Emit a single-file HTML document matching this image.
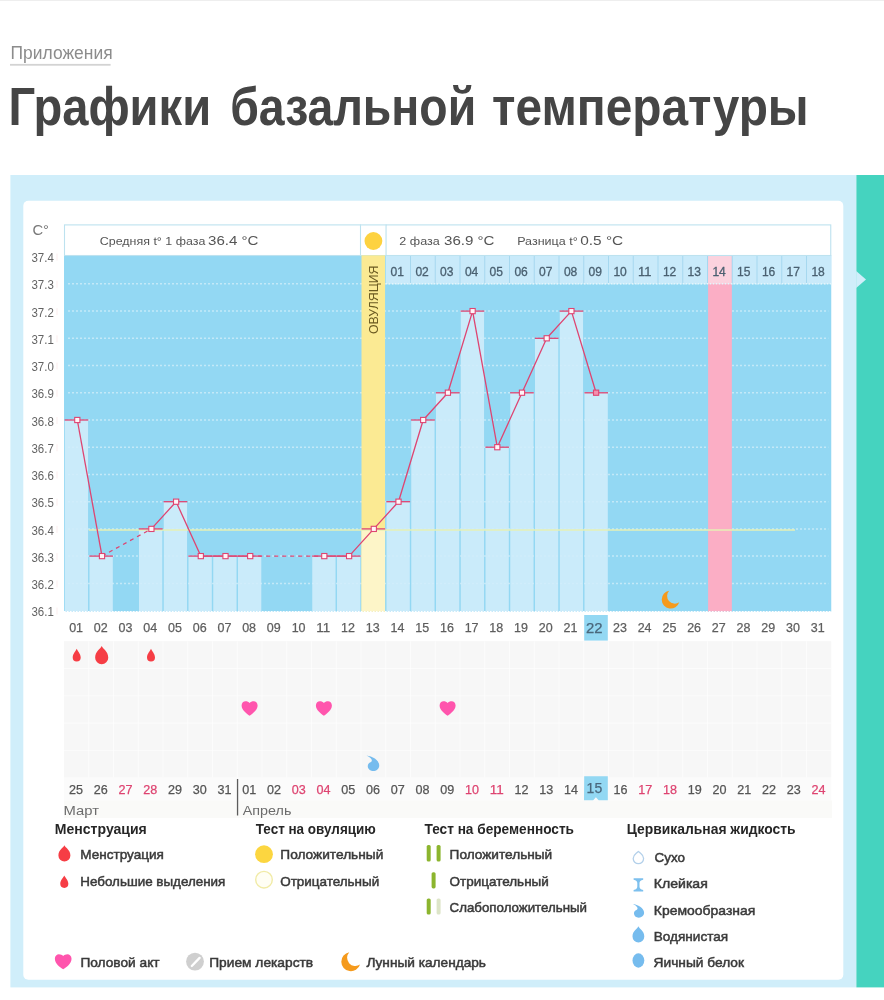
<!DOCTYPE html>
<html lang="ru"><head><meta charset="utf-8"><title>Графики базальной температуры</title>
<style>
html,body{margin:0;padding:0;background:#ffffff;}
body{width:884px;height:1000px;overflow:hidden;font-family:"Liberation Sans",sans-serif;}
svg{display:block;}
svg text{font-family:"Liberation Sans",sans-serif;}
</style></head><body>
<svg width="884" height="1000" viewBox="0 0 884 1000">
<defs><filter id="soft" filterUnits="userSpaceOnUse" x="-20" y="-20" width="924" height="1040"><feGaussianBlur stdDeviation="0.6"/></filter></defs>
<g filter="url(#soft)">
<rect x="-20" y="-20" width="924" height="1040" fill="#ffffff"/>
<rect x="0" y="0" width="884" height="1" fill="#eeeeee"/>
<text x="10.6" y="58.7" font-size="17.5" fill="#8c8c8c" font-weight="400" text-anchor="start" textLength="102.0" lengthAdjust="spacingAndGlyphs">Приложения</text>
<rect x="10" y="63.9" width="100.6" height="1.8" fill="#d3d3d3"/>
<text x="8.5" y="125.4" font-size="53" fill="#444444" font-weight="700" text-anchor="start" textLength="202.6" lengthAdjust="spacingAndGlyphs">Графики</text>
<text x="230.2" y="125.4" font-size="53" fill="#444444" font-weight="700" text-anchor="start" textLength="246.0" lengthAdjust="spacingAndGlyphs">базальной</text>
<text x="492.0" y="125.4" font-size="53" fill="#444444" font-weight="700" text-anchor="start" textLength="316.7" lengthAdjust="spacingAndGlyphs">температуры</text>
<rect x="10.4" y="175" width="846.1" height="812.4" fill="#d0eefa"/>
<rect x="856.4" y="175" width="47.6" height="812.4" fill="#45d3bf"/>
<path d="M856.2 271 L866 279.5 L856.2 288 Z" fill="#d0eefa"/>
<rect x="23.3" y="200.8" width="820" height="779" rx="5" fill="#ffffff"/>
<rect x="64.0" y="255.3" width="767.25" height="356.3" fill="#93d8f3"/>
<line x1="68.0" y1="283.8" x2="828.25" y2="283.8" stroke="#ffffff" stroke-opacity="0.45" stroke-width="1.5" stroke-dasharray="2 2"/>
<line x1="68.0" y1="311.1" x2="828.25" y2="311.1" stroke="#ffffff" stroke-opacity="0.45" stroke-width="1.5" stroke-dasharray="2 2"/>
<line x1="68.0" y1="338.3" x2="828.25" y2="338.3" stroke="#ffffff" stroke-opacity="0.45" stroke-width="1.5" stroke-dasharray="2 2"/>
<line x1="68.0" y1="365.5" x2="828.25" y2="365.5" stroke="#ffffff" stroke-opacity="0.45" stroke-width="1.5" stroke-dasharray="2 2"/>
<line x1="68.0" y1="392.8" x2="828.25" y2="392.8" stroke="#ffffff" stroke-opacity="0.45" stroke-width="1.5" stroke-dasharray="2 2"/>
<line x1="68.0" y1="420.0" x2="828.25" y2="420.0" stroke="#ffffff" stroke-opacity="0.45" stroke-width="1.5" stroke-dasharray="2 2"/>
<line x1="68.0" y1="447.2" x2="828.25" y2="447.2" stroke="#ffffff" stroke-opacity="0.45" stroke-width="1.5" stroke-dasharray="2 2"/>
<line x1="68.0" y1="474.4" x2="828.25" y2="474.4" stroke="#ffffff" stroke-opacity="0.45" stroke-width="1.5" stroke-dasharray="2 2"/>
<line x1="68.0" y1="501.7" x2="828.25" y2="501.7" stroke="#ffffff" stroke-opacity="0.45" stroke-width="1.5" stroke-dasharray="2 2"/>
<line x1="68.0" y1="528.9" x2="828.25" y2="528.9" stroke="#ffffff" stroke-opacity="0.45" stroke-width="1.5" stroke-dasharray="2 2"/>
<line x1="68.0" y1="556.1" x2="828.25" y2="556.1" stroke="#ffffff" stroke-opacity="0.45" stroke-width="1.5" stroke-dasharray="2 2"/>
<line x1="68.0" y1="583.4" x2="828.25" y2="583.4" stroke="#ffffff" stroke-opacity="0.45" stroke-width="1.5" stroke-dasharray="2 2"/>
<rect x="385.75" y="255.3" width="445.5" height="28.5" fill="#c9eafa"/>
<rect x="64.75" y="420.0" width="23.30" height="191.6" fill="#d2edfb" fill-opacity="0.88"/>
<rect x="89.50" y="556.1" width="23.30" height="55.5" fill="#d2edfb" fill-opacity="0.88"/>
<rect x="139.00" y="528.9" width="23.30" height="82.7" fill="#d2edfb" fill-opacity="0.88"/>
<rect x="163.75" y="501.7" width="23.30" height="109.9" fill="#d2edfb" fill-opacity="0.88"/>
<rect x="188.50" y="556.1" width="23.30" height="55.5" fill="#d2edfb" fill-opacity="0.88"/>
<rect x="213.25" y="556.1" width="23.30" height="55.5" fill="#d2edfb" fill-opacity="0.88"/>
<rect x="238.00" y="556.1" width="23.30" height="55.5" fill="#d2edfb" fill-opacity="0.88"/>
<rect x="312.25" y="556.1" width="23.30" height="55.5" fill="#d2edfb" fill-opacity="0.88"/>
<rect x="337.00" y="556.1" width="23.30" height="55.5" fill="#d2edfb" fill-opacity="0.88"/>
<rect x="386.50" y="501.7" width="23.30" height="109.9" fill="#d2edfb" fill-opacity="0.88"/>
<rect x="411.25" y="420.0" width="23.30" height="191.6" fill="#d2edfb" fill-opacity="0.88"/>
<rect x="436.00" y="392.8" width="23.30" height="218.9" fill="#d2edfb" fill-opacity="0.88"/>
<rect x="460.75" y="311.1" width="23.30" height="300.5" fill="#d2edfb" fill-opacity="0.88"/>
<rect x="485.50" y="447.2" width="23.30" height="164.4" fill="#d2edfb" fill-opacity="0.88"/>
<rect x="510.25" y="392.8" width="23.30" height="218.9" fill="#d2edfb" fill-opacity="0.88"/>
<rect x="535.00" y="338.3" width="23.30" height="273.3" fill="#d2edfb" fill-opacity="0.88"/>
<rect x="559.75" y="311.1" width="23.30" height="300.5" fill="#d2edfb" fill-opacity="0.88"/>
<rect x="584.50" y="392.8" width="23.30" height="218.9" fill="#d2edfb" fill-opacity="0.88"/>
<rect x="361.50" y="255.3" width="23.55" height="356.3" fill="#fbea93"/>
<rect x="361.50" y="528.9" width="23.55" height="82.7" fill="#fdf5c8"/>
<rect x="708.10" y="255.3" width="23.75" height="356.3" fill="#fbaec5"/>
<rect x="708.10" y="255.3" width="23.75" height="28.5" fill="#fbd2de"/>
<rect x="410.00" y="255.3" width="1" height="28.5" fill="#a6d8ef"/>
<rect x="434.75" y="255.3" width="1" height="28.5" fill="#a6d8ef"/>
<rect x="459.50" y="255.3" width="1" height="28.5" fill="#a6d8ef"/>
<rect x="484.25" y="255.3" width="1" height="28.5" fill="#a6d8ef"/>
<rect x="509.00" y="255.3" width="1" height="28.5" fill="#a6d8ef"/>
<rect x="533.75" y="255.3" width="1" height="28.5" fill="#a6d8ef"/>
<rect x="558.50" y="255.3" width="1" height="28.5" fill="#a6d8ef"/>
<rect x="583.25" y="255.3" width="1" height="28.5" fill="#a6d8ef"/>
<rect x="608.00" y="255.3" width="1" height="28.5" fill="#a6d8ef"/>
<rect x="632.75" y="255.3" width="1" height="28.5" fill="#a6d8ef"/>
<rect x="657.50" y="255.3" width="1" height="28.5" fill="#a6d8ef"/>
<rect x="682.25" y="255.3" width="1" height="28.5" fill="#a6d8ef"/>
<rect x="707.00" y="255.3" width="1" height="28.5" fill="#a6d8ef"/>
<rect x="731.75" y="255.3" width="1" height="28.5" fill="#a6d8ef"/>
<rect x="756.50" y="255.3" width="1" height="28.5" fill="#a6d8ef"/>
<rect x="781.25" y="255.3" width="1" height="28.5" fill="#a6d8ef"/>
<rect x="806.00" y="255.3" width="1" height="28.5" fill="#a6d8ef"/>
<line x1="385.75" y1="283.8" x2="831.25" y2="283.8" stroke="#e4f5fc" stroke-width="1.6" stroke-dasharray="1.5 1.5"/>
<text x="397.3" y="276.0" font-size="12.5" fill="#4a6070" font-weight="400" text-anchor="middle" textLength="13.4" lengthAdjust="spacingAndGlyphs" stroke="#4a6070" stroke-width="0.3">01</text>
<text x="422.1" y="276.0" font-size="12.5" fill="#4a6070" font-weight="400" text-anchor="middle" textLength="13.4" lengthAdjust="spacingAndGlyphs" stroke="#4a6070" stroke-width="0.3">02</text>
<text x="446.8" y="276.0" font-size="12.5" fill="#4a6070" font-weight="400" text-anchor="middle" textLength="13.4" lengthAdjust="spacingAndGlyphs" stroke="#4a6070" stroke-width="0.3">03</text>
<text x="471.6" y="276.0" font-size="12.5" fill="#4a6070" font-weight="400" text-anchor="middle" textLength="13.4" lengthAdjust="spacingAndGlyphs" stroke="#4a6070" stroke-width="0.3">04</text>
<text x="496.3" y="276.0" font-size="12.5" fill="#4a6070" font-weight="400" text-anchor="middle" textLength="13.4" lengthAdjust="spacingAndGlyphs" stroke="#4a6070" stroke-width="0.3">05</text>
<text x="521.1" y="276.0" font-size="12.5" fill="#4a6070" font-weight="400" text-anchor="middle" textLength="13.4" lengthAdjust="spacingAndGlyphs" stroke="#4a6070" stroke-width="0.3">06</text>
<text x="545.8" y="276.0" font-size="12.5" fill="#4a6070" font-weight="400" text-anchor="middle" textLength="13.4" lengthAdjust="spacingAndGlyphs" stroke="#4a6070" stroke-width="0.3">07</text>
<text x="570.6" y="276.0" font-size="12.5" fill="#4a6070" font-weight="400" text-anchor="middle" textLength="13.4" lengthAdjust="spacingAndGlyphs" stroke="#4a6070" stroke-width="0.3">08</text>
<text x="595.3" y="276.0" font-size="12.5" fill="#4a6070" font-weight="400" text-anchor="middle" textLength="13.4" lengthAdjust="spacingAndGlyphs" stroke="#4a6070" stroke-width="0.3">09</text>
<text x="620.1" y="276.0" font-size="12.5" fill="#4a6070" font-weight="400" text-anchor="middle" textLength="13.4" lengthAdjust="spacingAndGlyphs" stroke="#4a6070" stroke-width="0.3">10</text>
<text x="644.8" y="276.0" font-size="12.5" fill="#4a6070" font-weight="400" text-anchor="middle" textLength="13.4" lengthAdjust="spacingAndGlyphs" stroke="#4a6070" stroke-width="0.3">11</text>
<text x="669.6" y="276.0" font-size="12.5" fill="#4a6070" font-weight="400" text-anchor="middle" textLength="13.4" lengthAdjust="spacingAndGlyphs" stroke="#4a6070" stroke-width="0.3">12</text>
<text x="694.3" y="276.0" font-size="12.5" fill="#4a6070" font-weight="400" text-anchor="middle" textLength="13.4" lengthAdjust="spacingAndGlyphs" stroke="#4a6070" stroke-width="0.3">13</text>
<text x="719.1" y="276.0" font-size="12.5" fill="#4a6070" font-weight="400" text-anchor="middle" textLength="13.4" lengthAdjust="spacingAndGlyphs" stroke="#4a6070" stroke-width="0.3">14</text>
<text x="743.8" y="276.0" font-size="12.5" fill="#4a6070" font-weight="400" text-anchor="middle" textLength="13.4" lengthAdjust="spacingAndGlyphs" stroke="#4a6070" stroke-width="0.3">15</text>
<text x="768.6" y="276.0" font-size="12.5" fill="#4a6070" font-weight="400" text-anchor="middle" textLength="13.4" lengthAdjust="spacingAndGlyphs" stroke="#4a6070" stroke-width="0.3">16</text>
<text x="793.3" y="276.0" font-size="12.5" fill="#4a6070" font-weight="400" text-anchor="middle" textLength="13.4" lengthAdjust="spacingAndGlyphs" stroke="#4a6070" stroke-width="0.3">17</text>
<text x="818.1" y="276.0" font-size="12.5" fill="#4a6070" font-weight="400" text-anchor="middle" textLength="13.4" lengthAdjust="spacingAndGlyphs" stroke="#4a6070" stroke-width="0.3">18</text>
<line x1="64.0" y1="611.6" x2="831.25" y2="611.6" stroke="#ffffff" stroke-width="1.4" stroke-dasharray="1.5 1.5"/>
<line x1="88.75" y1="529.9" x2="795" y2="529.9" stroke="#e6f0b4" stroke-width="1.5"/>
<rect x="64.5" y="224.9" width="296.00" height="30.6" fill="#ffffff" stroke="#bde2ef" stroke-width="1.1"/>
<rect x="386.05" y="224.9" width="444.70" height="30.6" fill="#ffffff" stroke="#bde2ef" stroke-width="1.1"/>
<rect x="360.0" y="224.3" width="26.75" height="1.2" fill="#c4e5f1"/>
<circle cx="373.4" cy="241" r="8.9" fill="#fdd240"/>
<text x="99.8" y="245.4" font-size="11.5" fill="#555" font-weight="400" text-anchor="start" textLength="105.5" lengthAdjust="spacingAndGlyphs">Средняя t° 1 фаза</text>
<text x="208.0" y="245.4" font-size="13.5" fill="#555" font-weight="400" text-anchor="start" textLength="50.5" lengthAdjust="spacingAndGlyphs">36.4 °C</text>
<text x="399.3" y="245.4" font-size="11.5" fill="#555" font-weight="400" text-anchor="start" textLength="40.5" lengthAdjust="spacingAndGlyphs">2 фаза</text>
<text x="444.0" y="245.4" font-size="13.5" fill="#555" font-weight="400" text-anchor="start" textLength="50.5" lengthAdjust="spacingAndGlyphs">36.9 °C</text>
<text x="517.2" y="245.4" font-size="11.5" fill="#555" font-weight="400" text-anchor="start" textLength="60.5" lengthAdjust="spacingAndGlyphs">Разница t°</text>
<text x="580.2" y="245.4" font-size="13.5" fill="#555" font-weight="400" text-anchor="start" textLength="43.0" lengthAdjust="spacingAndGlyphs">0.5 °C</text>
<text transform="translate(378.2 334) rotate(-90)" font-size="12.5" fill="#6b5a22" textLength="68.5" lengthAdjust="spacingAndGlyphs">ОВУЛЯЦИЯ</text>
<line x1="64.6" y1="420.0" x2="88.3" y2="420.0" stroke="#de4471" stroke-width="1.3"/>
<line x1="89.3" y1="556.1" x2="113.0" y2="556.1" stroke="#de4471" stroke-width="1.3"/>
<line x1="138.8" y1="528.9" x2="162.6" y2="528.9" stroke="#de4471" stroke-width="1.3"/>
<line x1="163.6" y1="501.7" x2="187.3" y2="501.7" stroke="#de4471" stroke-width="1.3"/>
<line x1="188.3" y1="556.1" x2="212.1" y2="556.1" stroke="#de4471" stroke-width="1.3"/>
<line x1="213.1" y1="556.1" x2="236.8" y2="556.1" stroke="#de4471" stroke-width="1.3"/>
<line x1="237.8" y1="556.1" x2="261.6" y2="556.1" stroke="#de4471" stroke-width="1.3"/>
<line x1="312.1" y1="556.1" x2="335.8" y2="556.1" stroke="#de4471" stroke-width="1.3"/>
<line x1="336.9" y1="556.1" x2="360.6" y2="556.1" stroke="#de4471" stroke-width="1.3"/>
<line x1="361.6" y1="528.9" x2="385.3" y2="528.9" stroke="#de4471" stroke-width="1.3"/>
<line x1="386.4" y1="501.7" x2="410.1" y2="501.7" stroke="#de4471" stroke-width="1.3"/>
<line x1="411.1" y1="420.0" x2="434.8" y2="420.0" stroke="#de4471" stroke-width="1.3"/>
<line x1="435.9" y1="392.8" x2="459.6" y2="392.8" stroke="#de4471" stroke-width="1.3"/>
<line x1="460.6" y1="311.1" x2="484.3" y2="311.1" stroke="#de4471" stroke-width="1.3"/>
<line x1="485.4" y1="447.2" x2="509.1" y2="447.2" stroke="#de4471" stroke-width="1.3"/>
<line x1="510.1" y1="392.8" x2="533.8" y2="392.8" stroke="#de4471" stroke-width="1.3"/>
<line x1="534.9" y1="338.3" x2="558.5" y2="338.3" stroke="#de4471" stroke-width="1.3"/>
<line x1="559.6" y1="311.1" x2="583.3" y2="311.1" stroke="#de4471" stroke-width="1.3"/>
<line x1="584.4" y1="392.8" x2="608.0" y2="392.8" stroke="#de4471" stroke-width="1.3"/>
<polyline points="77.3,420.0 102.0,556.1" fill="none" stroke="#de4471" stroke-width="1.3" stroke-linejoin="round"/>
<polyline points="151.4,528.9 176.1,501.7 200.8,556.1 225.5,556.1 250.2,556.1" fill="none" stroke="#de4471" stroke-width="1.3" stroke-linejoin="round"/>
<polyline points="324.3,556.1 349.1,556.1 373.8,528.9 398.5,501.7 423.2,420.0 447.9,392.8 472.6,311.1 497.3,447.2 522.0,392.8 546.7,338.3 571.4,311.1 596.1,392.8" fill="none" stroke="#de4471" stroke-width="1.3" stroke-linejoin="round"/>
<line x1="102.0" y1="556.1" x2="151.4" y2="528.9" stroke="#de4471" stroke-width="1.25" stroke-dasharray="4 4"/>
<line x1="250.2" y1="556.1" x2="324.3" y2="556.1" stroke="#de4471" stroke-width="1.25" stroke-dasharray="4 4"/>
<rect x="74.7" y="417.4" width="5.2" height="5.2" fill="#fff4f7" stroke="#de4471" stroke-width="1.1"/>
<rect x="99.4" y="553.5" width="5.2" height="5.2" fill="#fff4f7" stroke="#de4471" stroke-width="1.1"/>
<rect x="148.8" y="526.3" width="5.2" height="5.2" fill="#fff4f7" stroke="#de4471" stroke-width="1.1"/>
<rect x="173.5" y="499.1" width="5.2" height="5.2" fill="#fff4f7" stroke="#de4471" stroke-width="1.1"/>
<rect x="198.2" y="553.5" width="5.2" height="5.2" fill="#fff4f7" stroke="#de4471" stroke-width="1.1"/>
<rect x="222.9" y="553.5" width="5.2" height="5.2" fill="#fff4f7" stroke="#de4471" stroke-width="1.1"/>
<rect x="247.6" y="553.5" width="5.2" height="5.2" fill="#fff4f7" stroke="#de4471" stroke-width="1.1"/>
<rect x="321.7" y="553.5" width="5.2" height="5.2" fill="#fff4f7" stroke="#de4471" stroke-width="1.1"/>
<rect x="346.5" y="553.5" width="5.2" height="5.2" fill="#fff4f7" stroke="#de4471" stroke-width="1.1"/>
<rect x="371.2" y="526.3" width="5.2" height="5.2" fill="#fff4f7" stroke="#de4471" stroke-width="1.1"/>
<rect x="395.9" y="499.1" width="5.2" height="5.2" fill="#fff4f7" stroke="#de4471" stroke-width="1.1"/>
<rect x="420.6" y="417.4" width="5.2" height="5.2" fill="#fff4f7" stroke="#de4471" stroke-width="1.1"/>
<rect x="445.3" y="390.1" width="5.2" height="5.2" fill="#fff4f7" stroke="#de4471" stroke-width="1.1"/>
<rect x="470.0" y="308.5" width="5.2" height="5.2" fill="#fff4f7" stroke="#de4471" stroke-width="1.1"/>
<rect x="494.7" y="444.6" width="5.2" height="5.2" fill="#fff4f7" stroke="#de4471" stroke-width="1.1"/>
<rect x="519.4" y="390.1" width="5.2" height="5.2" fill="#fff4f7" stroke="#de4471" stroke-width="1.1"/>
<rect x="544.1" y="335.7" width="5.2" height="5.2" fill="#fff4f7" stroke="#de4471" stroke-width="1.1"/>
<rect x="568.8" y="308.5" width="5.2" height="5.2" fill="#fff4f7" stroke="#de4471" stroke-width="1.1"/>
<rect x="593.5" y="390.1" width="5.2" height="5.2" fill="#f48fad" stroke="#de4471" stroke-width="1.1"/>
<text x="32.4" y="234.5" font-size="15" fill="#777" font-weight="400" text-anchor="start" textLength="16.6" lengthAdjust="spacingAndGlyphs">C°</text>
<text x="31.4" y="262.2" font-size="13" fill="#646464" font-weight="400" text-anchor="start" textLength="22.4" lengthAdjust="spacingAndGlyphs">37.4</text>
<rect x="56.6" y="253.6" width="0.8" height="7" fill="#f3c9c9" fill-opacity="0.4"/>
<text x="31.4" y="289.4" font-size="13" fill="#646464" font-weight="400" text-anchor="start" textLength="22.4" lengthAdjust="spacingAndGlyphs">37.3</text>
<rect x="56.6" y="280.8" width="0.8" height="7" fill="#f3c9c9" fill-opacity="0.4"/>
<text x="31.4" y="316.7" font-size="13" fill="#646464" font-weight="400" text-anchor="start" textLength="22.4" lengthAdjust="spacingAndGlyphs">37.2</text>
<rect x="56.6" y="308.1" width="0.8" height="7" fill="#f3c9c9" fill-opacity="0.4"/>
<text x="31.4" y="343.9" font-size="13" fill="#646464" font-weight="400" text-anchor="start" textLength="22.4" lengthAdjust="spacingAndGlyphs">37.1</text>
<rect x="56.6" y="335.3" width="0.8" height="7" fill="#f3c9c9" fill-opacity="0.4"/>
<text x="31.4" y="371.1" font-size="13" fill="#646464" font-weight="400" text-anchor="start" textLength="22.4" lengthAdjust="spacingAndGlyphs">37.0</text>
<rect x="56.6" y="362.5" width="0.8" height="7" fill="#f3c9c9" fill-opacity="0.4"/>
<text x="31.4" y="398.4" font-size="13" fill="#646464" font-weight="400" text-anchor="start" textLength="22.4" lengthAdjust="spacingAndGlyphs">36.9</text>
<rect x="56.6" y="389.8" width="0.8" height="7" fill="#f3c9c9" fill-opacity="0.4"/>
<text x="31.4" y="425.6" font-size="13" fill="#646464" font-weight="400" text-anchor="start" textLength="22.4" lengthAdjust="spacingAndGlyphs">36.8</text>
<rect x="56.6" y="417.0" width="0.8" height="7" fill="#f3c9c9" fill-opacity="0.4"/>
<text x="31.4" y="452.8" font-size="13" fill="#646464" font-weight="400" text-anchor="start" textLength="22.4" lengthAdjust="spacingAndGlyphs">36.7</text>
<rect x="56.6" y="444.2" width="0.8" height="7" fill="#f3c9c9" fill-opacity="0.4"/>
<text x="31.4" y="480.0" font-size="13" fill="#646464" font-weight="400" text-anchor="start" textLength="22.4" lengthAdjust="spacingAndGlyphs">36.6</text>
<rect x="56.6" y="471.4" width="0.8" height="7" fill="#f3c9c9" fill-opacity="0.4"/>
<text x="31.4" y="507.3" font-size="13" fill="#646464" font-weight="400" text-anchor="start" textLength="22.4" lengthAdjust="spacingAndGlyphs">36.5</text>
<rect x="56.6" y="498.7" width="0.8" height="7" fill="#f3c9c9" fill-opacity="0.4"/>
<text x="31.4" y="534.5" font-size="13" fill="#646464" font-weight="400" text-anchor="start" textLength="22.4" lengthAdjust="spacingAndGlyphs">36.4</text>
<rect x="56.6" y="525.9" width="0.8" height="7" fill="#f3c9c9" fill-opacity="0.4"/>
<text x="31.4" y="561.7" font-size="13" fill="#646464" font-weight="400" text-anchor="start" textLength="22.4" lengthAdjust="spacingAndGlyphs">36.3</text>
<rect x="56.6" y="553.1" width="0.8" height="7" fill="#f3c9c9" fill-opacity="0.4"/>
<text x="31.4" y="589.0" font-size="13" fill="#646464" font-weight="400" text-anchor="start" textLength="22.4" lengthAdjust="spacingAndGlyphs">36.2</text>
<rect x="56.6" y="580.4" width="0.8" height="7" fill="#f3c9c9" fill-opacity="0.4"/>
<text x="31.4" y="616.2" font-size="13" fill="#646464" font-weight="400" text-anchor="start" textLength="22.4" lengthAdjust="spacingAndGlyphs">36.1</text>
<rect x="56.6" y="607.6" width="0.8" height="7" fill="#f3c9c9" fill-opacity="0.4"/>
<path transform="translate(670.7 599.5)" d="M8.57 2.75 A9.00 9.00 0 1 1 -1.53 -8.87 A7.74 7.74 0 0 0 8.57 2.75 Z" fill="#f59a1c"/>
<rect x="584.2" y="615" width="23.6" height="25.6" fill="#93d8f3"/>
<text x="76.1" y="631.9" font-size="12.7" fill="#5e5e5e" font-weight="400" text-anchor="middle" textLength="13.9" lengthAdjust="spacingAndGlyphs" stroke="#5e5e5e" stroke-width="0.25">01</text>
<text x="100.8" y="631.9" font-size="12.7" fill="#5e5e5e" font-weight="400" text-anchor="middle" textLength="13.9" lengthAdjust="spacingAndGlyphs" stroke="#5e5e5e" stroke-width="0.25">02</text>
<text x="125.5" y="631.9" font-size="12.7" fill="#5e5e5e" font-weight="400" text-anchor="middle" textLength="13.9" lengthAdjust="spacingAndGlyphs" stroke="#5e5e5e" stroke-width="0.25">03</text>
<text x="150.2" y="631.9" font-size="12.7" fill="#5e5e5e" font-weight="400" text-anchor="middle" textLength="13.9" lengthAdjust="spacingAndGlyphs" stroke="#5e5e5e" stroke-width="0.25">04</text>
<text x="175.0" y="631.9" font-size="12.7" fill="#5e5e5e" font-weight="400" text-anchor="middle" textLength="13.9" lengthAdjust="spacingAndGlyphs" stroke="#5e5e5e" stroke-width="0.25">05</text>
<text x="199.7" y="631.9" font-size="12.7" fill="#5e5e5e" font-weight="400" text-anchor="middle" textLength="13.9" lengthAdjust="spacingAndGlyphs" stroke="#5e5e5e" stroke-width="0.25">06</text>
<text x="224.4" y="631.9" font-size="12.7" fill="#5e5e5e" font-weight="400" text-anchor="middle" textLength="13.9" lengthAdjust="spacingAndGlyphs" stroke="#5e5e5e" stroke-width="0.25">07</text>
<text x="249.1" y="631.9" font-size="12.7" fill="#5e5e5e" font-weight="400" text-anchor="middle" textLength="13.9" lengthAdjust="spacingAndGlyphs" stroke="#5e5e5e" stroke-width="0.25">08</text>
<text x="273.8" y="631.9" font-size="12.7" fill="#5e5e5e" font-weight="400" text-anchor="middle" textLength="13.9" lengthAdjust="spacingAndGlyphs" stroke="#5e5e5e" stroke-width="0.25">09</text>
<text x="298.6" y="631.9" font-size="12.7" fill="#5e5e5e" font-weight="400" text-anchor="middle" textLength="13.9" lengthAdjust="spacingAndGlyphs" stroke="#5e5e5e" stroke-width="0.25">10</text>
<text x="323.3" y="631.9" font-size="12.7" fill="#5e5e5e" font-weight="400" text-anchor="middle" textLength="13.9" lengthAdjust="spacingAndGlyphs" stroke="#5e5e5e" stroke-width="0.25">11</text>
<text x="348.0" y="631.9" font-size="12.7" fill="#5e5e5e" font-weight="400" text-anchor="middle" textLength="13.9" lengthAdjust="spacingAndGlyphs" stroke="#5e5e5e" stroke-width="0.25">12</text>
<text x="372.7" y="631.9" font-size="12.7" fill="#5e5e5e" font-weight="400" text-anchor="middle" textLength="13.9" lengthAdjust="spacingAndGlyphs" stroke="#5e5e5e" stroke-width="0.25">13</text>
<text x="397.4" y="631.9" font-size="12.7" fill="#5e5e5e" font-weight="400" text-anchor="middle" textLength="13.9" lengthAdjust="spacingAndGlyphs" stroke="#5e5e5e" stroke-width="0.25">14</text>
<text x="422.2" y="631.9" font-size="12.7" fill="#5e5e5e" font-weight="400" text-anchor="middle" textLength="13.9" lengthAdjust="spacingAndGlyphs" stroke="#5e5e5e" stroke-width="0.25">15</text>
<text x="446.9" y="631.9" font-size="12.7" fill="#5e5e5e" font-weight="400" text-anchor="middle" textLength="13.9" lengthAdjust="spacingAndGlyphs" stroke="#5e5e5e" stroke-width="0.25">16</text>
<text x="471.6" y="631.9" font-size="12.7" fill="#5e5e5e" font-weight="400" text-anchor="middle" textLength="13.9" lengthAdjust="spacingAndGlyphs" stroke="#5e5e5e" stroke-width="0.25">17</text>
<text x="496.3" y="631.9" font-size="12.7" fill="#5e5e5e" font-weight="400" text-anchor="middle" textLength="13.9" lengthAdjust="spacingAndGlyphs" stroke="#5e5e5e" stroke-width="0.25">18</text>
<text x="521.0" y="631.9" font-size="12.7" fill="#5e5e5e" font-weight="400" text-anchor="middle" textLength="13.9" lengthAdjust="spacingAndGlyphs" stroke="#5e5e5e" stroke-width="0.25">19</text>
<text x="545.8" y="631.9" font-size="12.7" fill="#5e5e5e" font-weight="400" text-anchor="middle" textLength="13.9" lengthAdjust="spacingAndGlyphs" stroke="#5e5e5e" stroke-width="0.25">20</text>
<text x="570.5" y="631.9" font-size="12.7" fill="#5e5e5e" font-weight="400" text-anchor="middle" textLength="13.9" lengthAdjust="spacingAndGlyphs" stroke="#5e5e5e" stroke-width="0.25">21</text>
<text x="594.3" y="632.9" font-size="14.8" fill="#4a677c" font-weight="400" text-anchor="middle" textLength="16.6" lengthAdjust="spacingAndGlyphs" stroke="#4a677c" stroke-width="0.25">22</text>
<text x="619.9" y="631.9" font-size="12.7" fill="#5e5e5e" font-weight="400" text-anchor="middle" textLength="13.9" lengthAdjust="spacingAndGlyphs" stroke="#5e5e5e" stroke-width="0.25">23</text>
<text x="644.6" y="631.9" font-size="12.7" fill="#5e5e5e" font-weight="400" text-anchor="middle" textLength="13.9" lengthAdjust="spacingAndGlyphs" stroke="#5e5e5e" stroke-width="0.25">24</text>
<text x="669.4" y="631.9" font-size="12.7" fill="#5e5e5e" font-weight="400" text-anchor="middle" textLength="13.9" lengthAdjust="spacingAndGlyphs" stroke="#5e5e5e" stroke-width="0.25">25</text>
<text x="694.1" y="631.9" font-size="12.7" fill="#5e5e5e" font-weight="400" text-anchor="middle" textLength="13.9" lengthAdjust="spacingAndGlyphs" stroke="#5e5e5e" stroke-width="0.25">26</text>
<text x="718.8" y="631.9" font-size="12.7" fill="#5e5e5e" font-weight="400" text-anchor="middle" textLength="13.9" lengthAdjust="spacingAndGlyphs" stroke="#5e5e5e" stroke-width="0.25">27</text>
<text x="743.5" y="631.9" font-size="12.7" fill="#5e5e5e" font-weight="400" text-anchor="middle" textLength="13.9" lengthAdjust="spacingAndGlyphs" stroke="#5e5e5e" stroke-width="0.25">28</text>
<text x="768.2" y="631.9" font-size="12.7" fill="#5e5e5e" font-weight="400" text-anchor="middle" textLength="13.9" lengthAdjust="spacingAndGlyphs" stroke="#5e5e5e" stroke-width="0.25">29</text>
<text x="793.0" y="631.9" font-size="12.7" fill="#5e5e5e" font-weight="400" text-anchor="middle" textLength="13.9" lengthAdjust="spacingAndGlyphs" stroke="#5e5e5e" stroke-width="0.25">30</text>
<text x="817.7" y="631.9" font-size="12.7" fill="#5e5e5e" font-weight="400" text-anchor="middle" textLength="13.9" lengthAdjust="spacingAndGlyphs" stroke="#5e5e5e" stroke-width="0.25">31</text>
<rect x="64.0" y="641.2" width="767.25" height="136.5" fill="#f7f7f7"/>
<rect x="64.0" y="668.0" width="767.25" height="1" fill="#ffffff" fill-opacity="0.6"/>
<rect x="64.0" y="695.3" width="767.25" height="1" fill="#ffffff" fill-opacity="0.6"/>
<rect x="64.0" y="722.6" width="767.25" height="1" fill="#ffffff" fill-opacity="0.6"/>
<rect x="64.0" y="749.9" width="767.25" height="1" fill="#ffffff" fill-opacity="0.6"/>
<rect x="88.25" y="641.2" width="1" height="136.5" fill="#ffffff" fill-opacity="0.6"/>
<rect x="113.00" y="641.2" width="1" height="136.5" fill="#ffffff" fill-opacity="0.6"/>
<rect x="137.75" y="641.2" width="1" height="136.5" fill="#ffffff" fill-opacity="0.6"/>
<rect x="162.50" y="641.2" width="1" height="136.5" fill="#ffffff" fill-opacity="0.6"/>
<rect x="187.25" y="641.2" width="1" height="136.5" fill="#ffffff" fill-opacity="0.6"/>
<rect x="212.00" y="641.2" width="1" height="136.5" fill="#ffffff" fill-opacity="0.6"/>
<rect x="236.75" y="641.2" width="1" height="136.5" fill="#ffffff" fill-opacity="0.6"/>
<rect x="261.50" y="641.2" width="1" height="136.5" fill="#ffffff" fill-opacity="0.6"/>
<rect x="286.25" y="641.2" width="1" height="136.5" fill="#ffffff" fill-opacity="0.6"/>
<rect x="311.00" y="641.2" width="1" height="136.5" fill="#ffffff" fill-opacity="0.6"/>
<rect x="335.75" y="641.2" width="1" height="136.5" fill="#ffffff" fill-opacity="0.6"/>
<rect x="360.50" y="641.2" width="1" height="136.5" fill="#ffffff" fill-opacity="0.6"/>
<rect x="385.25" y="641.2" width="1" height="136.5" fill="#ffffff" fill-opacity="0.6"/>
<rect x="410.00" y="641.2" width="1" height="136.5" fill="#ffffff" fill-opacity="0.6"/>
<rect x="434.75" y="641.2" width="1" height="136.5" fill="#ffffff" fill-opacity="0.6"/>
<rect x="459.50" y="641.2" width="1" height="136.5" fill="#ffffff" fill-opacity="0.6"/>
<rect x="484.25" y="641.2" width="1" height="136.5" fill="#ffffff" fill-opacity="0.6"/>
<rect x="509.00" y="641.2" width="1" height="136.5" fill="#ffffff" fill-opacity="0.6"/>
<rect x="533.75" y="641.2" width="1" height="136.5" fill="#ffffff" fill-opacity="0.6"/>
<rect x="558.50" y="641.2" width="1" height="136.5" fill="#ffffff" fill-opacity="0.6"/>
<rect x="583.25" y="641.2" width="1" height="136.5" fill="#ffffff" fill-opacity="0.6"/>
<rect x="608.00" y="641.2" width="1" height="136.5" fill="#ffffff" fill-opacity="0.6"/>
<rect x="632.75" y="641.2" width="1" height="136.5" fill="#ffffff" fill-opacity="0.6"/>
<rect x="657.50" y="641.2" width="1" height="136.5" fill="#ffffff" fill-opacity="0.6"/>
<rect x="682.25" y="641.2" width="1" height="136.5" fill="#ffffff" fill-opacity="0.6"/>
<rect x="707.00" y="641.2" width="1" height="136.5" fill="#ffffff" fill-opacity="0.6"/>
<rect x="731.75" y="641.2" width="1" height="136.5" fill="#ffffff" fill-opacity="0.6"/>
<rect x="756.50" y="641.2" width="1" height="136.5" fill="#ffffff" fill-opacity="0.6"/>
<rect x="781.25" y="641.2" width="1" height="136.5" fill="#ffffff" fill-opacity="0.6"/>
<rect x="806.00" y="641.2" width="1" height="136.5" fill="#ffffff" fill-opacity="0.6"/>
<path d="M76.70 648.80 C77.42 650.85 80.70 653.80 80.70 657.60 A4.00 4.00 0 0 1 72.70 657.60 C72.70 653.80 75.98 650.85 76.70 648.80 Z" fill="#f63e44"/>
<path d="M101.70 646.00 C102.88 648.91 108.25 651.43 108.25 657.65 A6.55 6.55 0 0 1 95.15 657.65 C95.15 651.43 100.52 648.91 101.70 646.00 Z" fill="#f63e44"/>
<path d="M151.00 648.80 C151.72 650.85 155.00 653.80 155.00 657.60 A4.00 4.00 0 0 1 147.00 657.60 C147.00 653.80 150.28 650.85 151.00 648.80 Z" fill="#f63e44"/>
<path transform="translate(249.6 708.4) scale(0.964)" d="M0 7.6 C-3 5.6 -8.3 1.8 -8.3 -3 C-8.3 -6 -6.2 -7.5 -4.3 -7.5 C-2.5 -7.5 -0.9 -6.8 0 -5.6 C0.9 -6.8 2.5 -7.5 4.3 -7.5 C6.2 -7.5 8.3 -6 8.3 -3 C8.3 1.8 3 5.6 0 7.6 Z" fill="#ff55ad"/>
<path transform="translate(323.9 708.4) scale(0.964)" d="M0 7.6 C-3 5.6 -8.3 1.8 -8.3 -3 C-8.3 -6 -6.2 -7.5 -4.3 -7.5 C-2.5 -7.5 -0.9 -6.8 0 -5.6 C0.9 -6.8 2.5 -7.5 4.3 -7.5 C6.2 -7.5 8.3 -6 8.3 -3 C8.3 1.8 3 5.6 0 7.6 Z" fill="#ff55ad"/>
<path transform="translate(447.6 708.4) scale(0.964)" d="M0 7.6 C-3 5.6 -8.3 1.8 -8.3 -3 C-8.3 -6 -6.2 -7.5 -4.3 -7.5 C-2.5 -7.5 -0.9 -6.8 0 -5.6 C0.9 -6.8 2.5 -7.5 4.3 -7.5 C6.2 -7.5 8.3 -6 8.3 -3 C8.3 1.8 3 5.6 0 7.6 Z" fill="#ff55ad"/>
<path transform="translate(372.9 763.2) scale(1.006)" d="M-6.3 -7.7 C-1 -7 6.3 -3.5 6.3 2.2 C6.3 5.5 3.5 7.7 0.3 7.7 C-2.9 7.7 -5.1 5.5 -5.1 3 C-5.1 1 -4 -0.6 -2.3 -1 C0.5 -2.5 -1.5 -5.5 -6.3 -7.7 Z" fill="#76bcee"/>
<rect x="64.0" y="777.7" width="767.25" height="22.8" fill="#fbfbfb"/>
<path d="M584.2 776.2 h23.6 v24.2 h-9 l-2.9 -3.2 l-2.9 3.2 h-9 Z" fill="#93d8f3"/>
<text x="76.0" y="794.3" font-size="12.8" fill="#555555" font-weight="400" text-anchor="middle" textLength="14.0" lengthAdjust="spacingAndGlyphs" stroke="#555555" stroke-width="0.25">25</text>
<text x="100.7" y="794.3" font-size="12.8" fill="#555555" font-weight="400" text-anchor="middle" textLength="14.0" lengthAdjust="spacingAndGlyphs" stroke="#555555" stroke-width="0.25">26</text>
<text x="125.5" y="794.3" font-size="12.8" fill="#de4471" font-weight="400" text-anchor="middle" textLength="14.0" lengthAdjust="spacingAndGlyphs" stroke="#de4471" stroke-width="0.25">27</text>
<text x="150.2" y="794.3" font-size="12.8" fill="#de4471" font-weight="400" text-anchor="middle" textLength="14.0" lengthAdjust="spacingAndGlyphs" stroke="#de4471" stroke-width="0.25">28</text>
<text x="175.0" y="794.3" font-size="12.8" fill="#555555" font-weight="400" text-anchor="middle" textLength="14.0" lengthAdjust="spacingAndGlyphs" stroke="#555555" stroke-width="0.25">29</text>
<text x="199.7" y="794.3" font-size="12.8" fill="#555555" font-weight="400" text-anchor="middle" textLength="14.0" lengthAdjust="spacingAndGlyphs" stroke="#555555" stroke-width="0.25">30</text>
<text x="224.5" y="794.3" font-size="12.8" fill="#555555" font-weight="400" text-anchor="middle" textLength="14.0" lengthAdjust="spacingAndGlyphs" stroke="#555555" stroke-width="0.25">31</text>
<text x="249.2" y="794.3" font-size="12.8" fill="#555555" font-weight="400" text-anchor="middle" textLength="14.0" lengthAdjust="spacingAndGlyphs" stroke="#555555" stroke-width="0.25">01</text>
<text x="274.0" y="794.3" font-size="12.8" fill="#555555" font-weight="400" text-anchor="middle" textLength="14.0" lengthAdjust="spacingAndGlyphs" stroke="#555555" stroke-width="0.25">02</text>
<text x="298.7" y="794.3" font-size="12.8" fill="#de4471" font-weight="400" text-anchor="middle" textLength="14.0" lengthAdjust="spacingAndGlyphs" stroke="#de4471" stroke-width="0.25">03</text>
<text x="323.5" y="794.3" font-size="12.8" fill="#de4471" font-weight="400" text-anchor="middle" textLength="14.0" lengthAdjust="spacingAndGlyphs" stroke="#de4471" stroke-width="0.25">04</text>
<text x="348.2" y="794.3" font-size="12.8" fill="#555555" font-weight="400" text-anchor="middle" textLength="14.0" lengthAdjust="spacingAndGlyphs" stroke="#555555" stroke-width="0.25">05</text>
<text x="373.0" y="794.3" font-size="12.8" fill="#555555" font-weight="400" text-anchor="middle" textLength="14.0" lengthAdjust="spacingAndGlyphs" stroke="#555555" stroke-width="0.25">06</text>
<text x="397.7" y="794.3" font-size="12.8" fill="#555555" font-weight="400" text-anchor="middle" textLength="14.0" lengthAdjust="spacingAndGlyphs" stroke="#555555" stroke-width="0.25">07</text>
<text x="422.5" y="794.3" font-size="12.8" fill="#555555" font-weight="400" text-anchor="middle" textLength="14.0" lengthAdjust="spacingAndGlyphs" stroke="#555555" stroke-width="0.25">08</text>
<text x="447.2" y="794.3" font-size="12.8" fill="#555555" font-weight="400" text-anchor="middle" textLength="14.0" lengthAdjust="spacingAndGlyphs" stroke="#555555" stroke-width="0.25">09</text>
<text x="472.0" y="794.3" font-size="12.8" fill="#de4471" font-weight="400" text-anchor="middle" textLength="14.0" lengthAdjust="spacingAndGlyphs" stroke="#de4471" stroke-width="0.25">10</text>
<text x="496.7" y="794.3" font-size="12.8" fill="#de4471" font-weight="400" text-anchor="middle" textLength="14.0" lengthAdjust="spacingAndGlyphs" stroke="#de4471" stroke-width="0.25">11</text>
<text x="521.5" y="794.3" font-size="12.8" fill="#555555" font-weight="400" text-anchor="middle" textLength="14.0" lengthAdjust="spacingAndGlyphs" stroke="#555555" stroke-width="0.25">12</text>
<text x="546.2" y="794.3" font-size="12.8" fill="#555555" font-weight="400" text-anchor="middle" textLength="14.0" lengthAdjust="spacingAndGlyphs" stroke="#555555" stroke-width="0.25">13</text>
<text x="571.0" y="794.3" font-size="12.8" fill="#555555" font-weight="400" text-anchor="middle" textLength="14.0" lengthAdjust="spacingAndGlyphs" stroke="#555555" stroke-width="0.25">14</text>
<text x="594.4" y="792.8" font-size="14.8" fill="#4a677c" font-weight="400" text-anchor="middle" textLength="15.6" lengthAdjust="spacingAndGlyphs" stroke="#4a677c" stroke-width="0.25">15</text>
<text x="620.5" y="794.3" font-size="12.8" fill="#555555" font-weight="400" text-anchor="middle" textLength="14.0" lengthAdjust="spacingAndGlyphs" stroke="#555555" stroke-width="0.25">16</text>
<text x="645.2" y="794.3" font-size="12.8" fill="#de4471" font-weight="400" text-anchor="middle" textLength="14.0" lengthAdjust="spacingAndGlyphs" stroke="#de4471" stroke-width="0.25">17</text>
<text x="670.0" y="794.3" font-size="12.8" fill="#de4471" font-weight="400" text-anchor="middle" textLength="14.0" lengthAdjust="spacingAndGlyphs" stroke="#de4471" stroke-width="0.25">18</text>
<text x="694.7" y="794.3" font-size="12.8" fill="#555555" font-weight="400" text-anchor="middle" textLength="14.0" lengthAdjust="spacingAndGlyphs" stroke="#555555" stroke-width="0.25">19</text>
<text x="719.5" y="794.3" font-size="12.8" fill="#555555" font-weight="400" text-anchor="middle" textLength="14.0" lengthAdjust="spacingAndGlyphs" stroke="#555555" stroke-width="0.25">20</text>
<text x="744.2" y="794.3" font-size="12.8" fill="#555555" font-weight="400" text-anchor="middle" textLength="14.0" lengthAdjust="spacingAndGlyphs" stroke="#555555" stroke-width="0.25">21</text>
<text x="769.0" y="794.3" font-size="12.8" fill="#555555" font-weight="400" text-anchor="middle" textLength="14.0" lengthAdjust="spacingAndGlyphs" stroke="#555555" stroke-width="0.25">22</text>
<text x="793.7" y="794.3" font-size="12.8" fill="#555555" font-weight="400" text-anchor="middle" textLength="14.0" lengthAdjust="spacingAndGlyphs" stroke="#555555" stroke-width="0.25">23</text>
<text x="818.5" y="794.3" font-size="12.8" fill="#de4471" font-weight="400" text-anchor="middle" textLength="14.0" lengthAdjust="spacingAndGlyphs" stroke="#de4471" stroke-width="0.25">24</text>
<rect x="64" y="800.5" width="768" height="17.5" fill="#fafaf8"/>
<rect x="236.9" y="779" width="1.3" height="36.5" fill="#5c5c5c"/>
<text x="63.6" y="814.8" font-size="13.7" fill="#6c6c6c" font-weight="400" text-anchor="start" textLength="35.4" lengthAdjust="spacingAndGlyphs">Март</text>
<text x="242.8" y="814.8" font-size="13.7" fill="#6c6c6c" font-weight="400" text-anchor="start" textLength="48.6" lengthAdjust="spacingAndGlyphs">Апрель</text>
<text x="54.8" y="833.6" font-size="14" fill="#262626" font-weight="700" text-anchor="start" textLength="92.0" lengthAdjust="spacingAndGlyphs">Менструация</text>
<text x="255.8" y="833.6" font-size="14" fill="#262626" font-weight="700" text-anchor="start" textLength="120.0" lengthAdjust="spacingAndGlyphs">Тест на овуляцию</text>
<text x="424.5" y="833.6" font-size="14" fill="#262626" font-weight="700" text-anchor="start" textLength="149.5" lengthAdjust="spacingAndGlyphs">Тест на беременность</text>
<text x="626.8" y="833.6" font-size="14" fill="#262626" font-weight="700" text-anchor="start" textLength="168.8" lengthAdjust="spacingAndGlyphs">Цервикальная жидкость</text>
<path d="M64.40 845.20 C65.48 847.79 70.40 849.70 70.40 855.40 A6.00 6.00 0 0 1 58.40 855.40 C58.40 849.70 63.32 847.79 64.40 845.20 Z" fill="#f63e44"/>
<path d="M64.30 875.40 C65.03 877.40 68.35 880.00 68.35 883.85 A4.05 4.05 0 0 1 60.25 883.85 C60.25 880.00 63.57 877.40 64.30 875.40 Z" fill="#f63e44"/>
<text x="80.3" y="858.5" font-size="13.6" fill="#3a3a3a" font-weight="400" text-anchor="start" textLength="83.6" lengthAdjust="spacingAndGlyphs" stroke="#3a3a3a" stroke-width="0.5">Менструация</text>
<text x="80.3" y="885.9" font-size="13.6" fill="#3a3a3a" font-weight="400" text-anchor="start" textLength="145.0" lengthAdjust="spacingAndGlyphs" stroke="#3a3a3a" stroke-width="0.5">Небольшие выделения</text>
<circle cx="264" cy="854.2" r="8.9" fill="#fcd641"/>
<circle cx="264" cy="879.7" r="8.3" fill="#fffef4" stroke="#f1eba6" stroke-width="1.4"/>
<text x="280.3" y="858.5" font-size="13.6" fill="#3a3a3a" font-weight="400" text-anchor="start" textLength="103.0" lengthAdjust="spacingAndGlyphs" stroke="#3a3a3a" stroke-width="0.5">Положительный</text>
<text x="280.2" y="885.9" font-size="13.6" fill="#3a3a3a" font-weight="400" text-anchor="start" textLength="99.0" lengthAdjust="spacingAndGlyphs" stroke="#3a3a3a" stroke-width="0.5">Отрицательный</text>
<rect x="426.7" y="845" width="4" height="16.5" rx="1.6" fill="#8cb52e"/>
<rect x="436.6" y="845" width="4" height="16.5" rx="1.6" fill="#8cb52e"/>
<rect x="431.6" y="872.2" width="4" height="16.2" rx="1.6" fill="#8cb52e"/>
<rect x="426.7" y="898.4" width="4" height="16.1" rx="1.6" fill="#8cb52e"/>
<rect x="436.6" y="898.4" width="4" height="16.1" rx="1.6" fill="#dde5c8"/>
<text x="449.6" y="858.5" font-size="13.6" fill="#3a3a3a" font-weight="400" text-anchor="start" textLength="102.6" lengthAdjust="spacingAndGlyphs" stroke="#3a3a3a" stroke-width="0.5">Положительный</text>
<text x="449.6" y="885.9" font-size="13.6" fill="#3a3a3a" font-weight="400" text-anchor="start" textLength="99.2" lengthAdjust="spacingAndGlyphs" stroke="#3a3a3a" stroke-width="0.5">Отрицательный</text>
<text x="449.6" y="912.0" font-size="13.6" fill="#3a3a3a" font-weight="400" text-anchor="start" textLength="137.4" lengthAdjust="spacingAndGlyphs" stroke="#3a3a3a" stroke-width="0.5">Слабоположительный</text>
<path d="M638.40 851.40 C641.00 854.11 643.60 854.60 643.60 858.50 A5.20 5.20 0 0 1 633.20 858.50 C633.20 854.60 635.80 854.11 638.40 851.40 Z" fill="#ffffff" stroke="#b3d0ea" stroke-width="1.3" stroke-linejoin="round"/>
<path d="M633.6 878.2 h9.6 v1.5 c-2.6 0.5 -3.7 1.6 -3.7 3.4 v3.4 c0 1.8 1.1 2.9 3.7 3.4 v1.5 h-9.6 v-1.5 c2.6 -0.5 3.7 -1.6 3.7 -3.4 v-3.4 c0 -1.8 -1.1 -2.9 -3.7 -3.4 Z" fill="#7dc0ee"/>
<path transform="translate(638.5 910.8) scale(0.890)" d="M-6.3 -7.7 C-1 -7 6.3 -3.5 6.3 2.2 C6.3 5.5 3.5 7.7 0.3 7.7 C-2.9 7.7 -5.1 5.5 -5.1 3 C-5.1 1 -4 -0.6 -2.3 -1 C0.5 -2.5 -1.5 -5.5 -6.3 -7.7 Z" fill="#76bcee"/>
<path d="M638.40 926.30 C639.46 928.88 644.30 930.89 644.30 936.50 A5.90 5.90 0 0 1 632.50 936.50 C632.50 930.89 637.34 928.88 638.40 926.30 Z" fill="#76bcee"/>
<ellipse cx="638.4" cy="960.5" rx="5.9" ry="7.2" fill="#76bcee"/>
<text x="654.5" y="861.8" font-size="13.6" fill="#3a3a3a" font-weight="400" text-anchor="start" textLength="30.5" lengthAdjust="spacingAndGlyphs" stroke="#3a3a3a" stroke-width="0.5">Сухо</text>
<text x="653.8" y="888.4" font-size="13.6" fill="#3a3a3a" font-weight="400" text-anchor="start" textLength="54.0" lengthAdjust="spacingAndGlyphs" stroke="#3a3a3a" stroke-width="0.5">Клейкая</text>
<text x="653.8" y="914.5" font-size="13.6" fill="#3a3a3a" font-weight="400" text-anchor="start" textLength="101.5" lengthAdjust="spacingAndGlyphs" stroke="#3a3a3a" stroke-width="0.5">Кремообразная</text>
<text x="653.8" y="940.7" font-size="13.6" fill="#3a3a3a" font-weight="400" text-anchor="start" textLength="74.4" lengthAdjust="spacingAndGlyphs" stroke="#3a3a3a" stroke-width="0.5">Водянистая</text>
<text x="653.6" y="966.8" font-size="13.6" fill="#3a3a3a" font-weight="400" text-anchor="start" textLength="90.4" lengthAdjust="spacingAndGlyphs" stroke="#3a3a3a" stroke-width="0.5">Яичный белок</text>
<path transform="translate(63.2 961.7) scale(1.006)" d="M0 7.6 C-3 5.6 -8.3 1.8 -8.3 -3 C-8.3 -6 -6.2 -7.5 -4.3 -7.5 C-2.5 -7.5 -0.9 -6.8 0 -5.6 C0.9 -6.8 2.5 -7.5 4.3 -7.5 C6.2 -7.5 8.3 -6 8.3 -3 C8.3 1.8 3 5.6 0 7.6 Z" fill="#ff55ad"/>
<text x="80.4" y="966.6" font-size="13.6" fill="#3a3a3a" font-weight="400" text-anchor="start" textLength="79.2" lengthAdjust="spacingAndGlyphs" stroke="#3a3a3a" stroke-width="0.5">Половой акт</text>
<circle cx="195" cy="961.6" r="8.9" fill="#cfcfcf"/>
<line x1="191.8" y1="966.0" x2="199.6" y2="957.9" stroke="#ffffff" stroke-width="2.3" stroke-linecap="round"/>
<text x="209.2" y="966.6" font-size="13.6" fill="#3a3a3a" font-weight="400" text-anchor="start" textLength="104.0" lengthAdjust="spacingAndGlyphs" stroke="#3a3a3a" stroke-width="0.5">Прием лекарств</text>
<path transform="translate(350.9 961.6)" d="M9.14 2.93 A9.60 9.60 0 1 1 -1.63 -9.46 A8.26 8.26 0 0 0 9.14 2.93 Z" fill="#f59a1c"/>
<text x="366.4" y="966.6" font-size="13.6" fill="#3a3a3a" font-weight="400" text-anchor="start" textLength="119.6" lengthAdjust="spacingAndGlyphs" stroke="#3a3a3a" stroke-width="0.5">Лунный календарь</text>
</g>
</svg>
</body></html>
